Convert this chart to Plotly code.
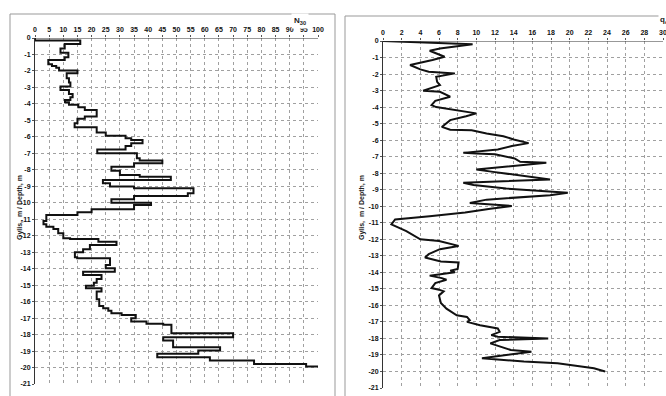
import plotly.graph_objects as go

W, H = 666, 396

# ---- Left panel: N30 step profile (depth of interval top, N value) ----
n30_depth = [0.0, -0.15, -0.36, -0.63, -0.89, -1.17, -1.33, -1.6, -1.7, -1.8, -1.97,
             -2.14, -2.45, -2.7, -2.95, -3.15, -3.4, -3.6, -3.76, -3.9, -4.05, -4.2,
             -4.37, -4.77, -4.9, -5.18, -5.42, -5.74, -5.93, -6.09, -6.19, -6.39,
             -6.55, -6.76, -7.0, -7.3, -7.44, -7.6, -7.81, -8.05, -8.31, -8.42, -8.62,
             -8.82, -9.02, -9.12, -9.43, -9.59, -9.79, -10.0, -10.13, -10.4, -10.58,
             -10.74, -11.1, -11.3, -11.45, -11.6, -11.85, -12.15, -12.2, -12.36,
             -12.56, -12.82, -13.0, -13.3, -13.37, -13.77, -13.98, -14.18, -14.38,
             -14.62, -14.85, -15.03, -15.19, -15.39, -15.86, -16.26, -16.4, -16.55,
             -16.71, -16.81, -17.01, -17.2, -17.35, -17.41, -17.92, -18.16, -18.36,
             -18.77, -18.97, -19.17, -19.38, -19.58, -19.78, -19.94]
n30_value = [0, 16, 10.5, 9, 11.8, 10.5, 4.7, 6, 7.5, 8.5, 15,
             11.2, 12, 12.5, 9, 12, 13.3, 12.5, 10.6, 12, 15.3, 17.6,
             21.8, 17.6, 15, 14, 21.8, 25, 32, 34, 38, 34,
             32, 22, 36, 37, 45, 35, 27, 30, 37, 48, 24,
             26.5, 35, 56, 54, 35, 27, 41, 35, 20, 15,
             4, 3, 4, 6.5, 8.2, 10, 12.4, 22.4, 28.8,
             19.4, 17, 14.1, 14.9, 26.5, 25, 28.2, 17, 23.5,
             21.8, 20.8, 18, 23.5, 21.8, 22.7, 24.1, 25.9, 27,
             30.6, 35.6, 34, 39.4, 45.3, 48.2, 70, 45.3, 48.8,
             65.4, 57.7, 43.2, 61.8, 77.4, 95.8, 100]

# ---- Right panel: qc profile ----
qc_depth = [0.0, -0.2, -0.45, -0.59, -0.95, -1.15, -1.45, -1.72, -1.86, -1.96, -2.16,
            -2.47, -2.67, -3.01, -3.07, -3.37, -3.62, -3.88, -4.0, -4.18, -4.38,
            -4.55, -4.79, -5.2, -5.37, -5.4, -5.6, -5.76, -5.96, -6.18, -6.36, -6.56,
            -6.77, -6.81, -6.85, -7.11, -7.31, -7.37, -7.78, -7.92, -8.38, -8.58,
            -8.72, -8.93, -9.19, -9.33, -9.6, -9.8, -9.98, -10.15, -10.38, -10.6,
            -10.8, -11.1, -11.2, -11.5, -12.0, -12.1, -12.4, -12.6, -12.9, -13.1,
            -13.35, -13.4, -13.8, -13.9, -14.0, -14.2, -14.35, -14.45, -14.65, -14.95,
            -15.05, -15.15, -15.4, -15.85, -16.2, -16.6, -16.7, -16.9, -17.0, -17.2,
            -17.4, -17.6, -17.8, -17.9, -18.0, -18.1, -18.3, -18.4, -18.5, -18.7,
            -18.8, -19.2, -19.4, -19.5, -19.8, -20.0]
qc_value = [0.0, 9.6, 6.1, 5.0, 6.6, 5.3, 2.9, 4.0, 4.9, 7.7, 5.7,
            5.8, 6.1, 4.3, 6.1, 7.2, 5.6, 5.2, 5.7, 7.8, 10.0,
            8.9, 7.2, 6.3, 7.2, 9.5, 11.1, 12.9, 14.0, 15.6, 13.8, 12.3,
            8.6, 10.0, 12.0, 14.1, 14.7, 17.5, 10.0, 11.8, 17.9, 8.6,
            9.7, 13.2, 19.8, 17.9, 11.1, 9.3, 13.8, 11.5, 8.8, 5.0,
            1.3, 0.9, 1.3, 2.5, 4.0, 6.0, 8.1, 6.1, 4.9, 4.5,
            6.2, 8.1, 8.0, 7.2, 7.7, 5.0, 6.3, 6.8, 5.6, 5.2,
            6.0, 6.5, 6.0, 6.2, 6.8, 7.9, 9.0, 9.3, 9.0, 10.4,
            12.3, 12.5, 11.6, 12.3, 17.7, 12.5, 11.5, 12.0, 12.5, 13.7,
            15.9, 10.6, 15.1, 18.7, 22.6, 23.8]

depth_ticks = list(range(0, -22, -1))
depth_labels = [str(v) for v in depth_ticks]
n30_ticks = list(range(0, 101, 5))
qc_ticks = list(range(0, 31, 2))

y_title = "Gylis,  m / Depth, m"


def px(x):
    return x / W


def py(y):
    return 1 - y / H


FONT = "Liberation Sans"
TICKFONT = dict(family=FONT, size=7, color="#111", weight="bold")
GRID = "#a0a0a0"

fig = go.Figure()
fig.add_trace(go.Scatter(x=n30_value, y=n30_depth, mode="lines", line_shape="vh",
                         line=dict(color="#111", width=2), xaxis="x", yaxis="y",
                         showlegend=False))
fig.add_trace(go.Scatter(x=qc_value, y=qc_depth, mode="lines",
                         line=dict(color="#111", width=2), xaxis="x2", yaxis="y2",
                         showlegend=False))

common_x = dict(side="top", showgrid=True, gridcolor=GRID, griddash="dot", gridwidth=1,
                showline=False, zeroline=False, ticks="outside", ticklen=2,
                tickcolor="#555", tickfont=TICKFONT, fixedrange=True,
                automargin=False, ticklabeloverflow="allow")
common_y = dict(range=[-21, 0], tickvals=depth_ticks, ticktext=depth_labels,
                showgrid=True, gridcolor=GRID, griddash="dot", gridwidth=1,
                showline=True, linecolor="#333", linewidth=1, zeroline=False,
                ticks="outside", ticklen=2, tickcolor="#555", tickfont=TICKFONT,
                fixedrange=True, automargin=False, ticklabeloverflow="allow")

fig.update_layout(
    width=W, height=H, margin=dict(l=0, r=0, t=0, b=0),
    paper_bgcolor="white", plot_bgcolor="white",
    xaxis=dict(domain=[px(35), px(318)], range=[0, 100], tickvals=n30_ticks,
               anchor="y", **common_x),
    yaxis=dict(domain=[py(384), py(38)], anchor="x", **common_y),
    xaxis2=dict(domain=[px(383), px(663)], range=[0, 30], tickvals=qc_ticks,
                anchor="y2", **common_x),
    yaxis2=dict(domain=[py(388), py(41)], anchor="x2", **common_y),
)

# top axis lines (depth 0)
fig.add_shape(type="line", xref="x", yref="y", x0=0, x1=100, y0=0, y1=0,
              line=dict(color="#333", width=1))
fig.add_shape(type="line", xref="x2", yref="y2", x0=0, x1=30, y0=0, y1=0,
              line=dict(color="#333", width=1))

# panel frames
fig.add_shape(type="rect", xref="paper", yref="paper", x0=px(10), x1=px(335),
              y0=py(400), y1=py(14), line=dict(color="#999", width=1), layer="below")
fig.add_shape(type="rect", xref="paper", yref="paper", x0=px(345), x1=px(672),
              y0=py(400), y1=py(16), line=dict(color="#999", width=1), layer="below")

# panel titles sitting on the frame line
fig.add_annotation(x=px(300), y=py(13), xref="paper", yref="paper",
                   text="<b>N<sub>30</sub></b>", showarrow=False, bgcolor="white",
                   font=dict(family=FONT, size=8, color="#222"), borderpad=2)
fig.add_annotation(x=px(658), y=py(13), xref="paper", yref="paper", xanchor="left",
                   text="<b>q<sub>c</sub></b>", showarrow=False, bgcolor="white",
                   font=dict(family=FONT, size=8, color="#222"))

# vertical axis titles
for xp in (14, 362):
    fig.add_annotation(x=px(xp), y=py(208), xref="paper", yref="paper",
                       text="<b>" + y_title + "</b>", textangle=-90, showarrow=False,
                       font=dict(family=FONT, size=7, color="#222"))

fig.write_html("out.html", config={"displayModeBar": False},
               post_script="document.body.style.margin='0px';")
